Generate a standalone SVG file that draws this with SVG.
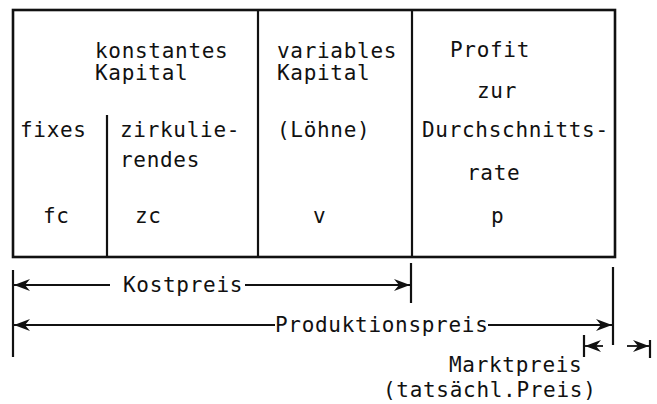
<svg xmlns="http://www.w3.org/2000/svg" width="657" height="404" viewBox="0 0 657 404">
  <style>
    .t { font-family: "DejaVu Sans Mono", "Liberation Mono", monospace; font-size: 21px; letter-spacing: 0.7px; fill: #111; }
    .box { fill: none; stroke: #111; stroke-width: 2.6; }
    .rule { stroke: #111; stroke-width: 2.2; fill: none; }
    .dim { stroke: #111; stroke-width: 1.8; fill: none; }
  </style>
  <defs>
    <marker id="ah" viewBox="0 0 16 12" refX="16" refY="6" markerWidth="16" markerHeight="12" markerUnits="userSpaceOnUse" orient="auto-start-reverse">
      <path d="M0,0 L16,6 L0,12 L5,6 z" fill="#111"/>
    </marker>
  </defs>
  <rect width="657" height="404" fill="#fff"/>

  <!-- price table -->
  <g id="table">
    <rect class="box" x="13" y="10" width="602" height="247"/>
    <line class="rule" x1="258" y1="10" x2="258" y2="257"/>
    <line class="rule" x1="412" y1="10" x2="412" y2="257"/>
    <line class="rule" x1="107" y1="115" x2="107" y2="257"/>
  </g>

  <g id="konstantes-kapital">
    <text class="t" x="95" y="58">konstantes</text>
    <text class="t" x="95" y="80">Kapital</text>
  </g>
  <g id="fixes">
    <text class="t" x="20" y="137">fixes</text>
    <text class="t" x="43" y="223">fc</text>
  </g>
  <g id="zirkulierendes">
    <text class="t" x="120" y="137">zirkulie-</text>
    <text class="t" x="120" y="167">rendes</text>
    <text class="t" x="135" y="223">zc</text>
  </g>
  <g id="variables-kapital">
    <text class="t" x="277" y="58">variables</text>
    <text class="t" x="277" y="80">Kapital</text>
    <text class="t" x="277" y="137">(Löhne)</text>
    <text class="t" x="313" y="223">v</text>
  </g>
  <g id="profit">
    <text class="t" x="450" y="57">Profit</text>
    <text class="t" x="477" y="98">zur</text>
    <text class="t" x="422" y="137">Durchschnitts-</text>
    <text class="t" x="467" y="180">rate</text>
    <text class="t" x="491" y="223">p</text>
  </g>

  <!-- dimension lines -->
  <g id="connectors">
    <line class="rule" x1="13" y1="270" x2="13" y2="357"/>
    <line class="rule" x1="411" y1="263" x2="411" y2="303"/>
    <line class="rule" x1="613" y1="267" x2="613" y2="345"/>
    <line class="rule" x1="584" y1="335" x2="584" y2="357"/>
    <line class="rule" x1="650" y1="340" x2="650" y2="358"/>

    <line class="dim" x1="110" y1="285" x2="14" y2="285" marker-end="url(#ah)"/>
    <line class="dim" x1="245" y1="285" x2="410" y2="285" marker-end="url(#ah)"/>
    <line class="dim" x1="275" y1="325" x2="14" y2="325" marker-end="url(#ah)"/>
    <line class="dim" x1="488" y1="325" x2="612" y2="325" marker-end="url(#ah)"/>
    <line class="dim" x1="603" y1="346" x2="585" y2="346" marker-end="url(#ah)"/>
    <line class="dim" x1="627" y1="346" x2="649" y2="346" marker-end="url(#ah)"/>
  </g>

  <g id="labels">
    <text class="t" x="123" y="292">Kostpreis</text>
    <text class="t" x="275" y="332">Produktionspreis</text>
    <text class="t" x="449" y="372">Marktpreis</text>
    <text class="t" x="383" y="397">(tatsächl.Preis)</text>
  </g>
</svg>
